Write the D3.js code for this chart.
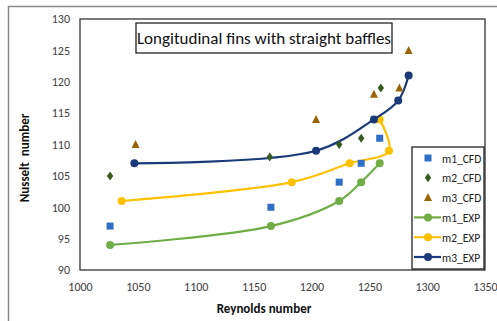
<!DOCTYPE html>
<html><head><meta charset="utf-8">
<script src="https://cdn.jsdelivr.net/npm/d3@7"></script>
<style>body{margin:0;background:#fff;} svg{display:block;}</style>
</head><body>
<svg id="c" width="497" height="321"></svg>
<script>
const m1_CFD = [[1026,97],[1165,100],[1224,104],[1243,107],[1259,111]];
const m2_CFD = [[1026,105],[1164,108],[1224,110],[1243,111],[1260,119]];
const m3_CFD = [[1048,110],[1204,114],[1254,118],[1276,119],[1284,125]];
const m1_EXP = [[1026,94],[1165,97],[1224,101],[1243,104],[1259,107]];
const m2_EXP = [[1036,101],[1183,104],[1233,107],[1267,109],[1259,114]];
const m3_EXP = [[1047,107],[1204,109],[1254,114],[1275,117],[1284,121]];
const xTicks = [1000,1050,1100,1150,1200,1250,1300,1350];
const yTicks = [90,95,100,105,110,115,120,125,130];
const seriesNames = ["m1_CFD","m2_CFD","m3_CFD","m1_EXP","m2_EXP","m3_EXP"];
const colors = {m1_CFD:"#2f6fc7", m2_CFD:"#3a5a24", m3_CFD:"#9a6307", m1_EXP:"#70ad47", m2_EXP:"#ffc000", m3_EXP:"#1b3a7a"};

const font = "Carlito, Lato, 'Open Sans', sans-serif";
const svg = d3.select("#c");
// outer frame
svg.append("path").attr("d","M8.5,321 L8.5,6.5 L497,6.5").attr("fill","none").attr("stroke","#8a8a8a").attr("stroke-width",1.5);

const L=80, R=485, T=19, B=270;
const x = d3.scaleLinear().domain([1000,1350]).range([L,R]);
const y = d3.scaleLinear().domain([90,130]).range([B,T]);

svg.append("rect").attr("x",L).attr("y",T).attr("width",R-L).attr("height",B-T)
  .attr("fill","none").attr("stroke","#333").attr("stroke-width",1.3);

const gx = svg.append("g").attr("transform",`translate(0,${B})`)
  .call(d3.axisBottom(x).tickValues(xTicks).tickSize(0).tickPadding(12).tickFormat(d3.format("d")));
gx.select(".domain").remove();
gx.selectAll("text").attr("font-family",font).attr("font-size",12).attr("fill","#404040");
const gy = svg.append("g").attr("transform",`translate(${L},0)`)
  .call(d3.axisLeft(y).tickValues(yTicks).tickSize(0).tickPadding(10).tickFormat(d3.format("d")));
gy.select(".domain").remove();
gy.selectAll("text").attr("font-family",font).attr("font-size",12).attr("fill","#404040");

svg.append("text").attr("x",264).attr("y",313).attr("text-anchor","middle")
  .attr("font-family",font).attr("font-weight","bold").attr("font-size",13).attr("fill","#111").text("Reynolds number");
svg.append("text").attr("transform","translate(29,158) rotate(-90)").attr("text-anchor","middle")
  .attr("font-family",font).attr("font-weight","bold").attr("font-size",13).attr("fill","#111")
  .attr("xml:space","preserve").style("white-space","pre").text("Nusselt  number");

// title
svg.append("rect").attr("x",136).attr("y",23).attr("width",256).attr("height",30)
  .attr("fill","#fff").attr("stroke","#222").attr("stroke-width",1.3);
svg.append("text").attr("x",264).attr("y",44).attr("text-anchor","middle")
  .attr("font-family",font).attr("font-size",17).attr("fill","#111").text("Longitudinal fins with straight baffles");

const line = d3.line().x(d=>x(d[0])).y(d=>y(d[1])).curve(d3.curveCatmullRom.alpha(0.5));
const expData = {m1_EXP, m2_EXP, m3_EXP};
["m1_EXP","m2_EXP","m3_EXP"].forEach(k=>{
  svg.append("path").attr("d",line(expData[k])).attr("fill","none").attr("stroke",colors[k]).attr("stroke-width",2.2);
  svg.selectAll(null).data(expData[k]).enter().append("circle")
    .attr("cx",d=>x(d[0])).attr("cy",d=>y(d[1])).attr("r",4).attr("fill",colors[k]);
});

function marker(g, kind, cx, cy, col){
  if(kind==="sq") g.append("rect").attr("x",cx-3.5).attr("y",cy-3.5).attr("width",7).attr("height",7).attr("fill",col);
  else if(kind==="dia") g.append("path").attr("d",`M${cx},${cy-4.5}L${cx+3.2},${cy}L${cx},${cy+4.5}L${cx-3.2},${cy}Z`).attr("fill",col);
  else g.append("path").attr("d",`M${cx},${cy-4.5}L${cx+4},${cy+3.5}L${cx-4},${cy+3.5}Z`).attr("fill",col);
}
const cfd = [[m1_CFD,"sq","m1_CFD"],[m2_CFD,"dia","m2_CFD"],[m3_CFD,"tri","m3_CFD"]];
cfd.forEach(([data,kind,k])=>data.forEach(d=>marker(svg,kind,x(d[0]),y(d[1]),colors[k])));

// legend
const lg = svg.append("g");
lg.append("rect").attr("x",412).attr("y",147).attr("width",72).attr("height",122)
  .attr("fill","#fff").attr("stroke","#222").attr("stroke-width",1.3);
seriesNames.forEach((k,i)=>{
  const ly = 158 + i*19.8;
  if(i<3) marker(lg, ["sq","dia","tri"][i], 428, ly, colors[k]);
  else {
    lg.append("line").attr("x1",414).attr("x2",441).attr("y1",ly).attr("y2",ly).attr("stroke",colors[k]).attr("stroke-width",2.2);
    lg.append("circle").attr("cx",428).attr("cy",ly).attr("r",4).attr("fill",colors[k]);
  }
  lg.append("text").attr("x",442).attr("y",ly+4.5).attr("font-family",font).attr("font-size",11.5).attr("fill","#222").text(k);
});
</script>
</body></html>
